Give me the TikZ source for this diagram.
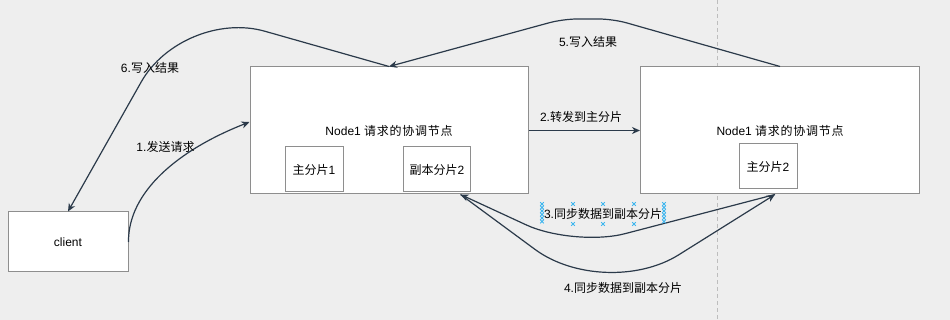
\documentclass[tikz,border=0pt]{standalone}
\usepackage{fontspec}
\setmainfont{Liberation Sans}
\newfontfamily\cjk{Noto Sans CJK SC}
\newfontfamily\cjkwide[LetterSpace=6]{Noto Sans CJK SC}
\usetikzlibrary{arrows.meta,calc}
\newcommand{\zh}[1]{{\cjk #1}}
\newcommand{\zhw}[1]{{\cjkwide #1}}

\definecolor{bg}{HTML}{EEEEEE}
\definecolor{boxgray}{HTML}{8E8E8E}
\definecolor{edgecol}{HTML}{2B3A4A}
\definecolor{selblue}{HTML}{3FB6EE}
\definecolor{guide}{HTML}{BDBDBD}

\begin{document}
\begin{tikzpicture}[x=1pt,y=-1pt,
  every node/.style={font=\fontsize{12}{14}\selectfont, inner sep=0pt},
  box/.style={draw=boxgray, fill=white, line width=1pt, align=center},
  conn/.style={draw=edgecol, line width=1.2pt,
    -{Stealth[length=8pt,width=7pt,inset=2.5pt]}},
  lbl/.style={text=black},
  handle/.style={draw=selblue, line width=0.8pt}
]
% canvas
\useasboundingbox (0,0) rectangle (950,320);
\fill[bg] (0,0) rectangle (950,320);

% page guide
\draw[guide, dashed, line width=0.8pt, dash pattern=on 4pt off 3pt] (717,0) -- (717,320);

% boxes
\node[box, minimum width=120pt, minimum height=60pt] (client) at (68,242) {client};
\node[box, minimum width=278pt, minimum height=127pt] (n1) at (389,130.5)
  {Node1 \zhw{请求的协调节点}};
\node[box, minimum width=279pt, minimum height=127pt] (n2) at (780,130.5)
  {Node1 \zhw{请求的协调节点}};
\node[box, minimum width=58pt, minimum height=45pt] (p1) at (314,169.5) {\zh{主分片}1};
\node[box, minimum width=67pt, minimum height=45pt] (r2) at (437,169.5) {\zh{副本分片}2};
\node[box, minimum width=58pt, minimum height=45pt] (p2) at (768,166.5) {\zh{主分片}2};

% connection points on the box borders
\coordinate (n1in) at ($(n1.west)+(0,-8.5)$);
\coordinate (n1low) at ($(n1.south east)+(-68,0)$);
\coordinate (n2low) at ($(n2.south)+(-5,0)$);

% 1. request
\draw[conn] (client.east) .. controls (128,192) and (178,150) .. (n1in);
% 2. forward
\draw[conn] (n1.east) -- (n2.west);
% 3. sync to replica
\draw[conn, rounded corners=53pt] (n2low) -- (574,247) -- (n1low);
% 4. sync back
\draw[conn, rounded corners=87pt] (n1low) -- (605,301) -- (n2low);
% 5. write result
\draw[conn, rounded corners=14pt] (n2.north) -- (613,19) -- (563,19) -- (n1.north);
% 6. write result to client
\draw[conn, rounded corners=85pt] (n1.north) -- (183,8) -- (client.north);

% labels
\node[lbl] (l1) at (165.5,147) {1.\zh{发送请求}};
\node[lbl] (l2) at (581,117) {2.\zh{转发到主分片}};
\node[lbl] (l3) at (603,214) {3.\zh{同步数据到副本分片}};
\node[lbl] (l4) at (623,288) {4.\zh{同步数据到副本分片}};
\node[lbl] (l5) at (588,42) {5.\zh{写入结果}};
\node[lbl] (l6) at (150,68) {6.\zh{写入结果}};

% selection handles around label 3
\foreach \hx in {542,664}{
  \foreach \hy in {204,207.5,...,224.5}{
    \draw[handle] (\hx-1.8,\hy-1.8) -- (\hx+1.8,\hy+1.8)
                  (\hx-1.8,\hy+1.8) -- (\hx+1.8,\hy-1.8);
  }
}
\foreach \hx in {573,603,634}{
  \foreach \hy in {204,224}{
    \draw[handle] (\hx-1.8,\hy-1.8) -- (\hx+1.8,\hy+1.8)
                  (\hx-1.8,\hy+1.8) -- (\hx+1.8,\hy-1.8);
  }
}
\end{tikzpicture}
\end{document}
